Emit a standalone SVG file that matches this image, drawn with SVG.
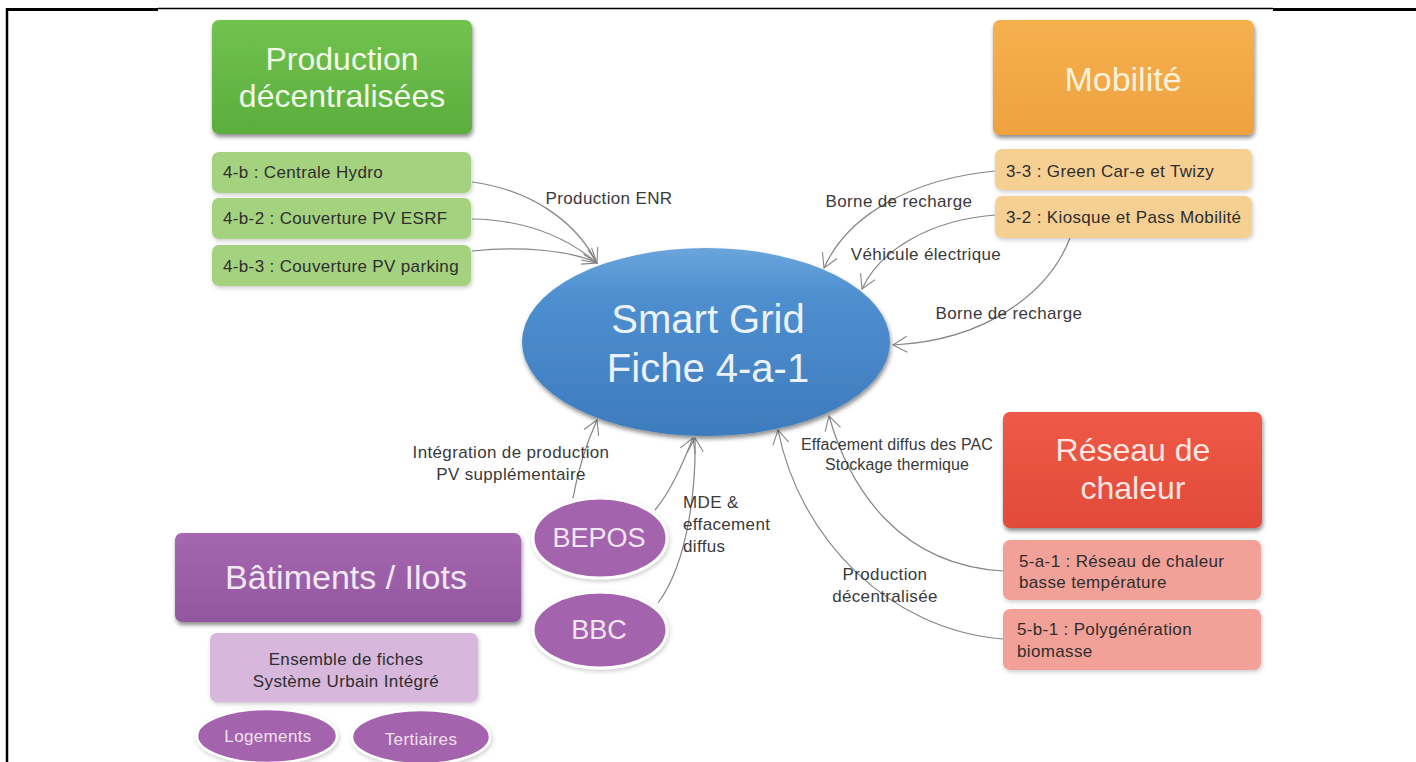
<svg xmlns="http://www.w3.org/2000/svg" width="1416" height="762" viewBox="0 0 1416 762">
  <style>
    text { font-family: "Liberation Sans", Arial, sans-serif; }
    .hdr { font-size: 34px; text-anchor: middle; }
    .hdr2 { font-size: 32px; text-anchor: middle; }
    .item { font-size: 17px; letter-spacing: 0.35px; fill: #2e2e2e; }
    .lbl { font-size: 17px; letter-spacing: 0.35px; fill: #3a3a3a; }
    .lbl-s { font-size: 16px; letter-spacing: 0.1px; fill: #3a3a3a; }
    .mid { text-anchor: middle; }
    .on-green { fill: #f2f9e8; }
    .on-orange { fill: #fdf1dc; }
    .on-red { fill: #fbe6e2; }
    .on-purple { fill: #f3e8f5; }
    .on-blue { fill: #eaf2fa; font-size: 40px; }
    .pill { font-size: 27px; fill: #f2e6f4; text-anchor: middle; }
    .pill-s { font-size: 17px; letter-spacing: 0.35px; fill: #f0e2f2; text-anchor: middle; }
    .conn { fill: none; stroke: #858585; stroke-width: 1.2; marker-end: url(#vee); }
  </style>
  <defs>
    <marker id="vee" viewBox="0 0 20 20" refX="18" refY="10" markerWidth="20" markerHeight="20" markerUnits="userSpaceOnUse" orient="auto">
      <polyline points="4,2 18,10 4,18" fill="none" stroke="#858585" stroke-width="1.1"/>
    </marker>
    <filter id="shadow" x="-10%" y="-10%" width="120%" height="130%">
      <feDropShadow dx="1" dy="3" stdDeviation="2" flood-color="#000" flood-opacity="0.45"/>
    </filter>
    <filter id="soft" x="-10%" y="-10%" width="120%" height="130%">
      <feDropShadow dx="1" dy="2" stdDeviation="2" flood-color="#000" flood-opacity="0.2"/>
    </filter>
    <linearGradient id="gGreen" x1="0" y1="0" x2="0" y2="1">
      <stop offset="0" stop-color="#72c24f"/>
      <stop offset="1" stop-color="#5aae3c"/>
    </linearGradient>
    <linearGradient id="gOrange" x1="0" y1="0" x2="0" y2="1">
      <stop offset="0" stop-color="#f6b04f"/>
      <stop offset="1" stop-color="#eda23e"/>
    </linearGradient>
    <linearGradient id="gRed" x1="0" y1="0" x2="0" y2="1">
      <stop offset="0" stop-color="#ee5a47"/>
      <stop offset="1" stop-color="#e24a39"/>
    </linearGradient>
    <linearGradient id="gPurple" x1="0" y1="0" x2="0" y2="1">
      <stop offset="0" stop-color="#a467b0"/>
      <stop offset="1" stop-color="#9357a0"/>
    </linearGradient>
    <linearGradient id="gBlue" x1="0" y1="0" x2="0" y2="1">
      <stop offset="0" stop-color="#6aa6dc"/>
      <stop offset="0.25" stop-color="#4f8fd0"/>
      <stop offset="1" stop-color="#3d7bbd"/>
    </linearGradient>
  </defs>

  <rect width="1416" height="762" fill="#ffffff"/>

  <!-- page frame -->
  <g id="frame" stroke="#000">
    <line x1="6" y1="9.5" x2="158" y2="9.5" stroke-width="3"/>
    <line x1="158" y1="8.5" x2="1273" y2="8.5" stroke-width="1.5"/>
    <line x1="1273" y1="9.5" x2="1416" y2="9.5" stroke-width="3"/>
    <line x1="7" y1="8" x2="7" y2="762" stroke-width="2.5"/>
  </g>

  <!-- connectors -->
  <g id="connectors">
    <path class="conn" d="M472,182 C530,190 575,220 597,263"/>
    <path class="conn" d="M472,219 C530,220 570,240 597,263"/>
    <path class="conn" d="M472,251 C520,246 570,250 597,263"/>

    <path class="conn" d="M995,171 C920,178 850,210 824,268"/>
    <path class="conn" d="M995,215 C930,220 880,250 862,289"/>
    <path class="conn" d="M1070,238 C1050,290 990,340 893,345"/>

    <path class="conn" d="M573,498 C578,470 588,440 597,420"/>
    <path class="conn" d="M655,510 C672,490 684,460 693,438"/>
    <path class="conn" d="M658,603 C690,560 696,480 695,438"/>

    <path class="conn" d="M1003,571 C900,565 850,490 829,416"/>
    <path class="conn" d="M1003,639 C890,630 800,540 778,430"/>
  </g>

  <!-- connector labels -->
  <g id="labels">
    <text class="lbl mid" x="609" y="204">Production ENR</text>
    <text class="lbl mid" x="899" y="207">Borne de recharge</text>
    <text class="lbl mid" x="926" y="260">Véhicule électrique</text>
    <text class="lbl mid" x="1009" y="319">Borne de recharge</text>
    <text class="lbl mid" x="511" y="458">Intégration de production</text>
    <text class="lbl mid" x="511" y="480">PV supplémentaire</text>
    <text class="lbl" x="683" y="508">MDE &amp;</text>
    <text class="lbl" x="683" y="530">effacement</text>
    <text class="lbl" x="683" y="552">diffus</text>
    <text class="lbl-s mid" x="897" y="450">Effacement diffus des PAC</text>
    <text class="lbl-s mid" x="897" y="470">Stockage thermique</text>
    <text class="lbl mid" x="885" y="580">Production</text>
    <text class="lbl mid" x="885" y="602">décentralisée</text>
  </g>

  <!-- central node -->
  <g id="smart-grid">
    <ellipse cx="706" cy="342" rx="184" ry="94" fill="url(#gBlue)" filter="url(#shadow)"/>
    <text class="hdr on-blue" x="708" y="333">Smart Grid</text>
    <text class="hdr on-blue" x="708" y="382">Fiche 4-a-1</text>
  </g>

  <!-- Production décentralisées -->
  <g id="production">
    <rect x="212" y="20" width="260" height="114" rx="7" fill="url(#gGreen)" filter="url(#shadow)"/>
    <text class="hdr2 on-green" x="342" y="70">Production</text>
    <text class="hdr2 on-green" x="342" y="107">décentralisées</text>
  </g>
  <g id="prod-hydro">
    <rect x="212" y="152" width="259" height="41" rx="7" fill="#a5d27f" filter="url(#soft)"/>
    <text class="item" x="223" y="178">4-b : Centrale Hydro</text>
  </g>
  <g id="prod-esrf">
    <rect x="212" y="198" width="259" height="41" rx="7" fill="#a5d27f" filter="url(#soft)"/>
    <text class="item" x="223" y="224">4-b-2 : Couverture PV ESRF</text>
  </g>
  <g id="prod-parking">
    <rect x="212" y="245" width="259" height="41" rx="7" fill="#a5d27f" filter="url(#soft)"/>
    <text class="item" x="223" y="272">4-b-3 : Couverture PV parking</text>
  </g>

  <!-- Mobilité -->
  <g id="mobilite">
    <rect x="993" y="20" width="261" height="115" rx="7" fill="url(#gOrange)" filter="url(#shadow)"/>
    <text class="hdr on-orange" x="1123" y="91">Mobilité</text>
  </g>
  <g id="mob-greencar">
    <rect x="995" y="149" width="257" height="41" rx="7" fill="#f6cf93" filter="url(#soft)"/>
    <text class="item" x="1006" y="177">3-3 : Green Car-e et Twizy</text>
  </g>
  <g id="mob-kiosque">
    <rect x="995" y="196" width="257" height="42" rx="7" fill="#f6cf93" filter="url(#soft)"/>
    <text class="item" x="1006" y="223">3-2 : Kiosque et Pass Mobilité</text>
  </g>

  <!-- Réseau de chaleur -->
  <g id="chaleur">
    <rect x="1003" y="412" width="259" height="116" rx="7" fill="url(#gRed)" filter="url(#shadow)"/>
    <text class="hdr2 on-red" x="1133" y="461">Réseau de</text>
    <text class="hdr2 on-red" x="1133" y="499">chaleur</text>
  </g>
  <g id="chaleur-bt">
    <rect x="1003" y="540" width="258" height="60" rx="7" fill="#f2a198" filter="url(#soft)"/>
    <text class="item" x="1019" y="567">5-a-1 : Réseau de chaleur</text>
    <text class="item" x="1019" y="588">basse température</text>
  </g>
  <g id="chaleur-bio">
    <rect x="1003" y="609" width="258" height="61" rx="7" fill="#f2a198" filter="url(#soft)"/>
    <text class="item" x="1017" y="635">5-b-1 : Polygénération</text>
    <text class="item" x="1017" y="657">biomasse</text>
  </g>

  <!-- Bâtiments / Ilots -->
  <g id="batiments">
    <rect x="175" y="533" width="346" height="89" rx="7" fill="url(#gPurple)" filter="url(#shadow)"/>
    <text class="hdr on-purple" x="346" y="589">Bâtiments / Ilots</text>
  </g>
  <g id="bat-fiches">
    <rect x="210" y="633" width="268" height="69" rx="7" fill="#d7b7dc" filter="url(#soft)"/>
    <text class="item mid" x="346" y="665">Ensemble de fiches</text>
    <text class="item mid" x="346" y="687">Système Urbain Intégré</text>
  </g>
  <g id="bat-logements">
    <ellipse cx="267" cy="736" rx="70" ry="27" fill="#a463ad" stroke="#ffffff" stroke-width="2.5" filter="url(#soft)"/>
    <text class="pill-s" x="268" y="742">Logements</text>
  </g>
  <g id="bat-tertiaires">
    <ellipse cx="421" cy="737" rx="69" ry="27" fill="#a463ad" stroke="#ffffff" stroke-width="2.5" filter="url(#soft)"/>
    <text class="pill-s" x="421" y="745">Tertiaires</text>
  </g>
  <g id="bepos">
    <ellipse cx="600" cy="538" rx="67" ry="40" fill="#a463ad" stroke="#ffffff" stroke-width="3" filter="url(#soft)"/>
    <text class="pill" x="599" y="547">BEPOS</text>
  </g>
  <g id="bbc">
    <ellipse cx="600" cy="630" rx="67" ry="38" fill="#a463ad" stroke="#ffffff" stroke-width="3" filter="url(#soft)"/>
    <text class="pill" x="599" y="639">BBC</text>
  </g>
</svg>
